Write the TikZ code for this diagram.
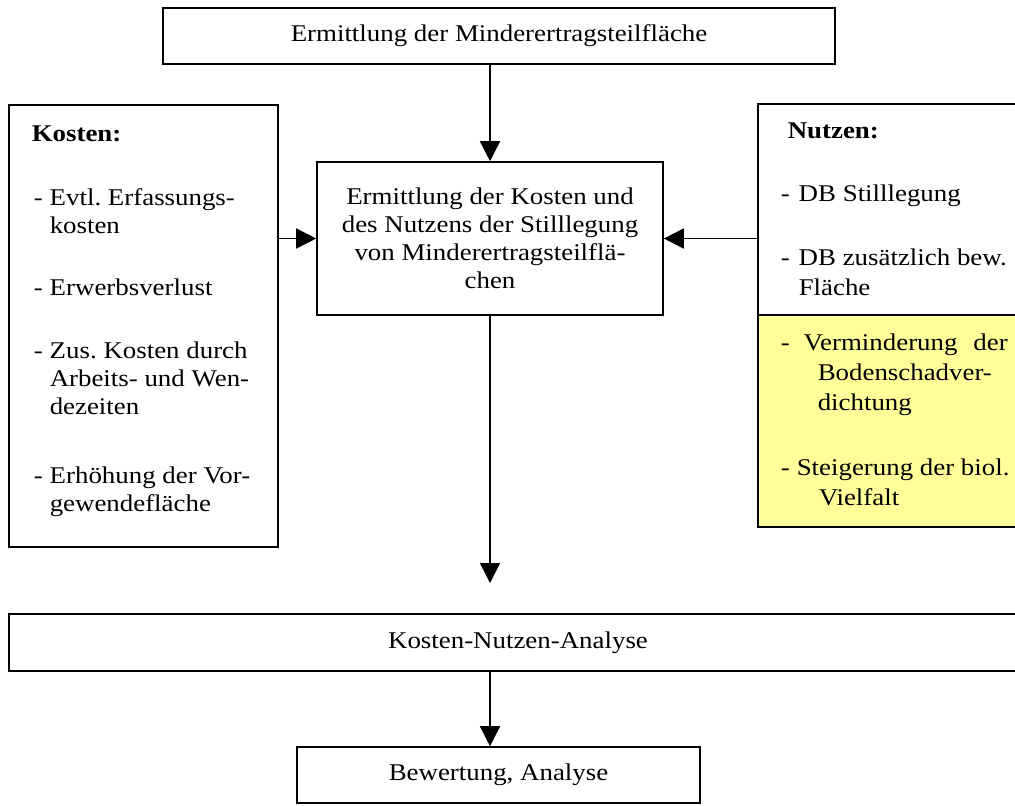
\documentclass[tikz,border=0pt]{standalone}
\usepackage{fontspec}
\setmainfont{Liberation Serif}[FakeStretch=1.12]
\usetikzlibrary{arrows.meta}
\definecolor{gelb}{RGB}{255,255,153}
\frenchspacing
\tikzset{box/.style={rectangle,draw,line width=0.8pt,inner sep=0pt,align=center,font=\fontsize{12}{14}\selectfont},
         punkt/.style={anchor=base west,inner sep=0pt,font=\fontsize{12}{14}\selectfont}}
\newcommand{\strich}[2]{\begin{tabular}[t]{@{}p{#1}@{}l@{}}-&#2\end{tabular}}

\begin{document}
\begin{tikzpicture}[x=0.5pt,y=-0.5pt,>={Triangle[length=10pt,width=10pt]},line width=0.75pt]
    \useasboundingbox (0,0) rectangle (1015,805);
    \clip (0,0) rectangle (1015,805);

    \node[box,minimum width=336pt,minimum height=28pt] (top) at (499,36) {Ermittlung der Minderertragsteilfläche};
    \node[box,minimum width=173pt,minimum height=76.5pt] (mid) at (490,238.5) {Ermittlung der Kosten und\\des Nutzens der Stilllegung\\von Minderertragsteilflä-\\chen};
    \node[box,minimum width=134.5pt,minimum height=221pt] (kosten) at (143.5,326) {};
    \node[box,minimum width=134.5pt,minimum height=211.5pt] (nutzen) at (892.5,315.5) {};
    \node[box,fill=gelb,minimum width=134.5pt,minimum height=106pt] (gelb) at (892.5,421) {};
    \node[box,minimum width=509pt,minimum height=28.5pt] (kna) at (518,642.5) {Kosten-Nutzen-Analyse};
    \node[box,minimum width=201.5pt,minimum height=28pt] (bew) at (498.5,775) {Bewertung, Analyse};
    \coordinate (halt) at (490,583);

    \node[punkt,font=\fontsize{12}{14}\bfseries] (k0) at (31,141) {Kosten:};
    \node[punkt] (k1) at (33,205) {\strich{8pt}{Evtl. Erfassungs-\\&kosten}};
    \node[punkt] (k2) at (33,295) {\strich{8pt}{Erwerbsverlust}};
    \node[punkt] (k3) at (33,358) {\strich{8pt}{Zus. Kosten durch\\&Arbeits- und Wen-\\&dezeiten}};
    \node[punkt] (k4) at (33,483) {\strich{8pt}{Erhöhung der Vor-\\&gewendefläche}};

    \node[punkt,font=\fontsize{12}{15}\bfseries] (n0) at (787,138) {Nutzen:};
    \node[punkt,font=\fontsize{12}{15}\selectfont] (n1) at (780,201) {\strich{9pt}{DB Stilllegung}};
    \node[punkt,font=\fontsize{12}{15}\selectfont] (n2) at (780,265) {\strich{9pt}{DB zusätzlich bew.\\&Fläche}};
    \node[punkt,font=\fontsize{12}{15}\selectfont] (n3) at (780,350) {\strich{11.5pt}{\makebox[102pt][s]{Verminderung der}\\&\hspace{7pt}Bodenschadver-\\&\hspace{7pt}dichtung}};
    \node[punkt,font=\fontsize{12}{15}\selectfont] (n4) at (780,475) {\strich{8pt}{Steigerung der biol.\\&\hspace{11pt}Vielfalt}};

    \draw [->] (mid.north |- top.south) to [] (mid.north);
    \draw [->] (kosten.east |- mid.west) to [] (mid.west);
    \draw [->] (nutzen.west |- mid.east) to [] (mid.east);
    \draw [->] (mid.south) to [] (halt);
    \draw [->] (mid.south |- kna.south) to [] (mid.south |- bew.north);
\end{tikzpicture}
\end{document}
